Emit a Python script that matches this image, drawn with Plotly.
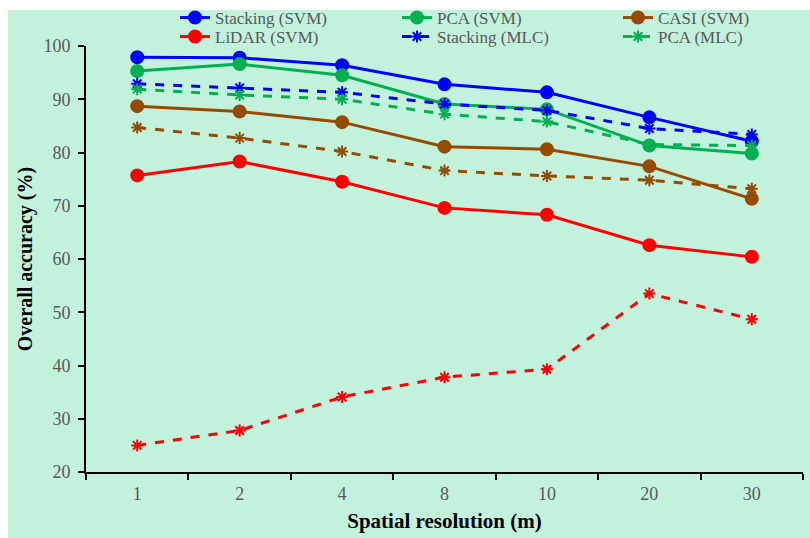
import plotly.graph_objects as go

resolutions = ["1", "2", "4", "8", "10", "20", "30"]

stacking_svm = [97.9, 97.8, 96.4, 92.8, 91.3, 86.6, 82.1]
pca_svm = [95.3, 96.6, 94.5, 89.1, 88.1, 81.3, 79.8]
casi_svm = [88.7, 87.7, 85.7, 81.1, 80.6, 77.4, 71.3]
lidar_svm = [75.7, 78.3, 74.5, 69.6, 68.3, 62.6, 60.4]
stacking_mlc = [92.9, 92.1, 91.3, 89.1, 87.9, 84.5, 83.4]
pca_mlc = [91.9, 90.8, 90.0, 87.2, 85.8, 81.5, 81.3]
casi_mlc = [84.7, 82.7, 80.2, 76.6, 75.6, 74.8, 73.2]
lidar_mlc = [25.0, 27.8, 34.1, 37.8, 39.3, 53.5, 48.7]

BLUE = "#0000FF"
GREEN = "#00B050"
BROWN = "#964B00"
RED = "#FF0000"
BG = "#C2F2DC"
FONT = "Liberation Serif"

# figure fills the window exactly (body margin removed below)
W, H = 810, 538
PL, PT, PR, PB = 86, 46, 803, 472
L, T, R, B = PL, PT, W - PR, H - PB
pw = PR - PL
ph = PB - PT


def py(page_y):
    return 1 + (PT - page_y) / ph


def px(page_x):
    return (page_x - PL) / pw


# (name, values, color, dash, symbol, legend id, legend text x, legend row y)
series = [
    ("Stacking (SVM)", stacking_svm, BLUE, "solid", "circle", "legend", 215, 18),
    ("PCA (SVM)", pca_svm, GREEN, "solid", "circle", "legend2", 437, 18),
    ("CASI (SVM)", casi_svm, BROWN, "solid", "circle", "legend3", 658, 18),
    ("LiDAR (SVM)", lidar_svm, RED, "solid", "circle", "legend4", 215, 37),
    ("Stacking (MLC)", stacking_mlc, BLUE, "dash", "asterisk-open", "legend5", 437, 37),
    ("PCA (MLC)", pca_mlc, GREEN, "dash", "asterisk-open", "legend6", 658, 37),
    ("CASI (MLC)", casi_mlc, BROWN, "dash", "asterisk-open", None, None, None),
    ("LiDAR (MLC)", lidar_mlc, RED, "dash", "asterisk-open", None, None, None),
]

fig = go.Figure()
legends = {}
for name, vals, color, dash, sym, leg, tx, ty in series:
    is_circle = sym == "circle"
    kw = dict(legend=leg, showlegend=True) if leg else dict(showlegend=False)
    fig.add_trace(go.Scatter(
        x=resolutions, y=vals, name=name, mode="lines+markers",
        line=dict(color=color, width=3, dash=dash),
        marker=dict(symbol=sym, size=12 if is_circle else 10, color=color,
                    line=dict(color=color, width=2)),
        **kw,
    ))
    if leg:
        legends[leg] = dict(
            x=px(tx - 40), y=py(ty), xanchor="left", yanchor="middle",
            orientation="h", bgcolor="rgba(0,0,0,0)",
            font=dict(family=FONT, size=17, color="#595959"),
            itemclick=False,
        )

fig.update_layout(
    width=W, height=H,
    margin=dict(l=L, r=R, t=T, b=B, pad=0, autoexpand=False),
    paper_bgcolor=BG, plot_bgcolor=BG,
    font=dict(family=FONT, size=17, color="#595959"),
    hovermode=False,
    xaxis=dict(
        type="category", tickson="boundaries",
        showline=True, linecolor="black", linewidth=2,
        ticks="outside", ticklen=6, tickwidth=1.5, tickcolor="black",
        ticklabelstandoff=4,
        showgrid=False, zeroline=False,
        tickfont=dict(family=FONT, size=18, color="#595959"),
        title=dict(text="<b>Spatial resolution (m)</b>",
                   font=dict(family=FONT, size=21, color="black"), standoff=11),
        range=[-0.5, 6.5],
    ),
    yaxis=dict(
        range=[20, 100], dtick=10, tick0=20,
        showline=True, linecolor="black", linewidth=2,
        ticks="outside", ticklen=6, tickwidth=1.5, tickcolor="black",
        ticklabelstandoff=4,
        showgrid=False, zeroline=False,
        tickfont=dict(family=FONT, size=18, color="#595959"),
        title=dict(text="<b>Overall accuracy (%)</b>",
                   font=dict(family=FONT, size=20, color="black"), standoff=5),
    ),
    shapes=[
        dict(type="rect", xref="paper", yref="paper", x0=px(-10), x1=px(820),
             y0=py(10), y1=py(-10), fillcolor="white", line=dict(width=0), layer="below"),
        dict(type="rect", xref="paper", yref="paper", x0=px(-10), x1=px(8),
             y0=py(548), y1=py(-10), fillcolor="white", line=dict(width=0), layer="below"),
    ],
    **legends,
)

fig.write_html(
    "out.html",
    config={"displayModeBar": False},
    post_script="document.body.style.margin='0';document.body.style.overflow='hidden';",
)
